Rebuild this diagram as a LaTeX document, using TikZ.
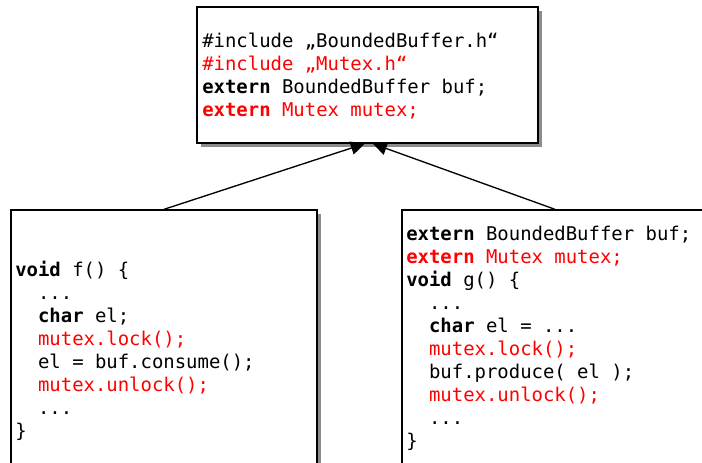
\documentclass[tikz,border=0pt]{standalone}
\usepackage{fontspec}
\setmonofont{DejaVu Sans Mono}
\definecolor{CodeRed}{RGB}{255,0,0}
\definecolor{ShadowColor}{RGB}{140,140,140}
\usetikzlibrary{positioning, arrows.meta, shadows}
\newcommand{\kw}[1]{\textbf{#1}}
\newcommand{\ind}{\hphantom{xx}}
\tikzset{
  code box/.style={draw=black, line width=1pt, fill=white, rectangle, inner sep=0pt,
    drop shadow={shadow xshift=3pt, shadow yshift=-3pt, fill=ShadowColor, opacity=1}},
  code/.style={inner sep=0pt, anchor=north west, align=left,
    font=\ttfamily\fontsize{14.2pt}{17.25pt}\selectfont},
  uses/.style={line width=1pt, -{Triangle[length=10.5pt, width=10pt]}}
}

\begin{document}
\begin{tikzpicture}[x=0.75pt, y=0.75pt]
            \useasboundingbox (0,0) rectangle (702,463);

            % Shared header
            \node[code box, minimum width=255.75pt, minimum height=102pt] (header) at (367.5,388) {};
            \node[code] (header code) at (202,430.4) {%
              \#include „BoundedBuffer.h“\\
              \textcolor{CodeRed}{\#include „Mutex.h“}\\
              \kw{extern} BoundedBuffer buf;\\
              \textcolor{CodeRed}{\kw{extern} Mutex mutex;}};

            % Consumer side
            \node[code box, minimum width=229.5pt, minimum height=202.5pt] (consumer) at (164,118) {};
            \node[code] (consumer code) at (15,202.4) {%
              \kw{void} f() \{\\
              \ind...\\
              \ind\kw{char} el;\\
              \ind\textcolor{CodeRed}{mutex.lock();}\\
              \ind el = buf.consume();\\
              \ind\textcolor{CodeRed}{mutex.unlock();}\\
              \ind...\\
              \}};

            % Producer side
            \node[code box, minimum width=229.5pt, minimum height=202.5pt] (producer) at (555,118) {};
            \node[code] (producer code) at (406,237.4) {%
              \kw{extern} BoundedBuffer buf;\\
              \textcolor{CodeRed}{\kw{extern} Mutex mutex;}\\
              \kw{void} g() \{\\
              \ind...\\
              \ind\kw{char} el = ...\\
              \ind\textcolor{CodeRed}{mutex.lock();}\\
              \ind buf.produce( el );\\
              \ind\textcolor{CodeRed}{mutex.unlock();}\\
              \ind...\\
              \}};

            % Both include the header
            \draw[uses] (consumer.north) -- ([xshift=-2]header.south);
            \draw[uses] (producer.north) -- ([xshift=4]header.south);
\end{tikzpicture}
\end{document}
